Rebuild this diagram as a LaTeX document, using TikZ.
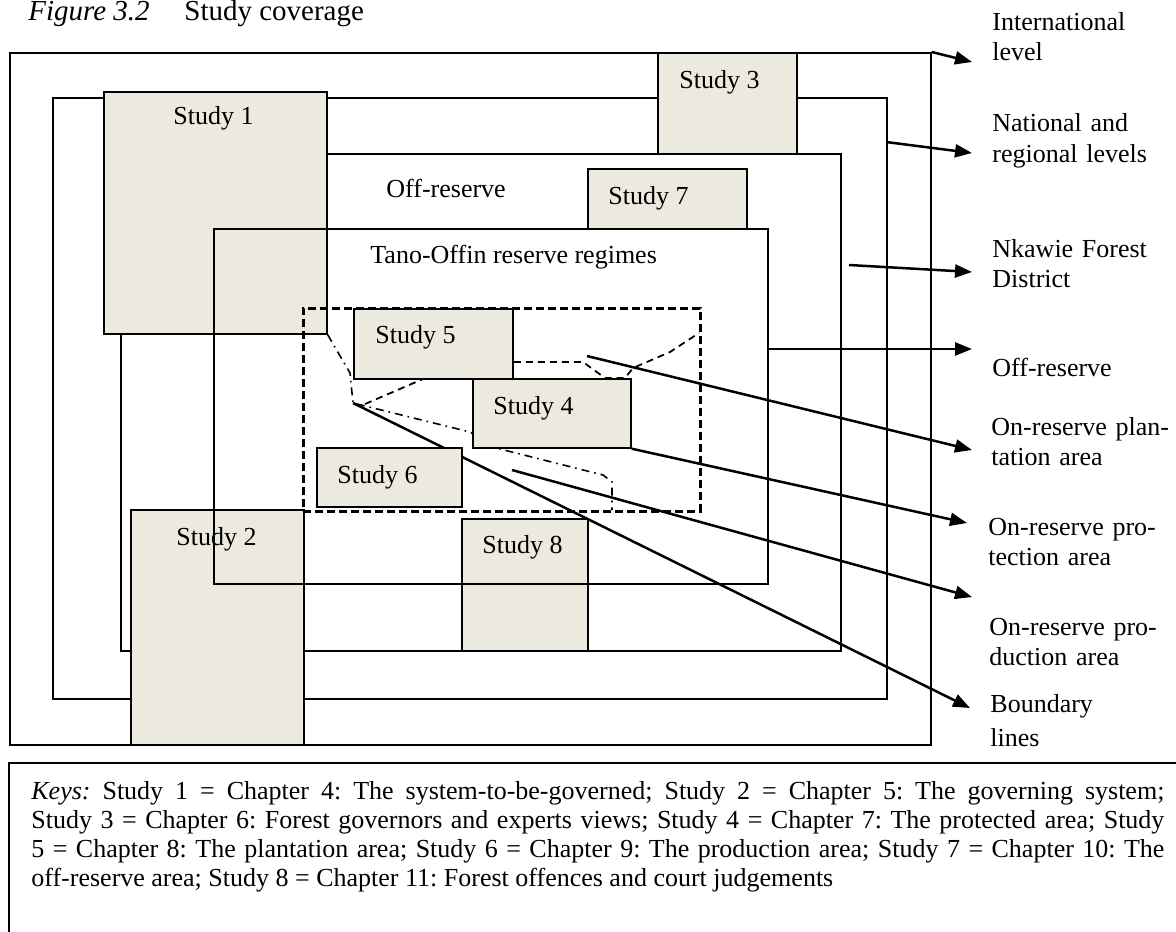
\documentclass[tikz,border=0pt]{standalone}
\usepackage{fontspec}
\setmainfont{Liberation Serif}
\usetikzlibrary{arrows.meta}
\definecolor{studybg}{RGB}{236,233,223}
\frenchspacing
\begin{document}
\begin{tikzpicture}[x=0.5pt,y=-0.5pt,
  frame/.style={draw=black, line width=0.85pt, rectangle, inner sep=0pt, anchor=north west},
  studybox/.style={draw=black, fill=studybg, line width=0.85pt, rectangle, inner sep=0pt, anchor=north west},
  txt/.style={font=\fontsize{13}{15}\selectfont, inner sep=0pt, anchor=base west},
  side/.style={txt, text width=95pt, align=left},
  pointer/.style={line width=1.25pt, -{Triangle[length=8.5pt,width=6.5pt]}},
  zone/.style={line width=1.25pt, dash pattern=on 4pt off 2pt},
  plantline/.style={line width=0.9pt, dash pattern=on 3.5pt off 2.5pt},
  protline/.style={line width=0.8pt, dash pattern=on 4pt off 2.5pt on 0.8pt off 2.5pt},
]
\useasboundingbox (0,0) rectangle (1176,931);
\clip (0,0) rectangle (1176,931);

% title
\node[txt, font=\fontsize{14.5}{16}\selectfont\itshape] (fig) at (28,21) {Figure 3.2};
\node[txt, font=\fontsize{14.5}{16}\selectfont] (cap) at (184,21) {Study coverage};

% nested levels
\node[frame, minimum width=460.5pt, minimum height=346pt] (lvlInt) at (9,52) {};
\node[frame, minimum width=417pt, minimum height=300.5pt] (lvlNat) at (52,97) {};
\node[frame, minimum width=360pt, minimum height=248.5pt] (lvlDist) at (120,153) {};

% studies behind the reserve frame
\node[studybox, minimum width=111.5pt, minimum height=121pt] (s1) at (103,91) {};
\node[studybox, minimum width=86.5pt, minimum height=117.5pt] (s2) at (130,509) {};
\node[studybox, minimum width=69.5pt, minimum height=50.5pt] (s3) at (657,52) {};
\node[studybox, minimum width=79.5pt, minimum height=30pt] (s7) at (587,168) {};
\node[studybox, minimum width=63pt, minimum height=66pt] (s8) at (461,518) {};

% Tano-Offin reserve and on-reserve area
\node[frame, minimum width=277pt, minimum height=177.5pt] (lvlRes) at (213,228) {};
\node[frame, zone, minimum width=198.5pt, minimum height=101.5pt] (onres) at (302,307) {};

% boundary lines inside the reserve
\coordinate (bnd) at (353,403);
\draw[plantline] (365,404) -- (430,376) -- (500,362) -- (583,362) -- (605,378)
  -- (625,378) -- (633,368) -- (670,352) -- (699,333);
\draw[protline] (s1.south east) -- (350,373) -- (bnd) -- (470,432) -- (500,449)
  -- (603,475) -- (612,482) -- (612,510);

% pointers to the legend on the right
\coordinate (tInt) at (972,62);
\coordinate (tNat) at (972,153);
\coordinate (tDist) at (972,272);
\coordinate (tOff) at (972,349);
\coordinate (tPlant) at (972,450);
\coordinate (tProt) at (967,523);
\coordinate (tProd) at (972,597);
\coordinate (tBnd) at (970,708);
\coordinate (sNat) at (886,142);
\coordinate (sDist) at (849,265);
\coordinate (sOff) at (767,349);
\coordinate (sPlant) at (587,356);
\coordinate (sProd) at (512,470);

\draw[pointer] (lvlInt.north east) -- (tInt);
\draw[pointer] (sNat) -- (tNat);
\draw[pointer] (sDist) -- (tDist);
\draw[pointer] (sOff) -- (tOff);
\draw[pointer] (sPlant) -- (tPlant);
\draw[pointer] (sProd) -- (tProd);
\draw[pointer] (bnd) -- (tBnd);

% studies inside the reserve
\node[studybox, minimum width=79.5pt, minimum height=35pt] (s5) at (353,308) {};
\node[studybox, minimum width=79pt, minimum height=34.5pt] (s4) at (472,378) {};
\node[studybox, minimum width=72.5pt, minimum height=29.5pt] (s6) at (316,447) {};
\draw[pointer] (s4.south east) -- (tProt);

% study labels
\node[txt] (s1t) at (173,125) {Study 1};
\node[txt] (s2t) at (176,545) {Study 2};
\node[txt] (s3t) at (679,89) {Study 3};
\node[txt] (s4t) at (493,414) {Study 4};
\node[txt] (s5t) at (375,343) {Study 5};
\node[txt] (s6t) at (337,483) {Study 6};
\node[txt] (s7t) at (608,204) {Study 7};
\node[txt] (s8t) at (482,553) {Study 8};

% area names
\node[txt] (offIn) at (386,197) {Off-reserve};
\node[txt] (resIn) at (370,263) {Tano-Offin reserve regimes};

% legend
\node[side] (lInt) at (992,31) {International\\level};
\node[side] (lNat) at (992,132) {National and\\regional levels};
\node[side] (lDist) at (992,257) {Nkawie Forest\\District};
\node[side] (lOff) at (992,376) {Off-reserve};
\node[side] (lPlant) at (991,435) {On-reserve plan-\\tation area};
\node[side] (lProt) at (988,535) {On-reserve pro-\\tection area};
\node[side] (lProd) at (989,635) {On-reserve pro-\\duction area};
\node[side] (lBnd) at (990,712) {Boundary\\[2pt]lines};

% keys
\draw[line width=0.9pt] (9,763) rectangle (1200,960);
\node[txt, text width=566.5pt, align=justify, font=\fontsize{13}{14.5}\selectfont] (keys) at (31,799)
 {\textit{Keys:} Study 1 = Chapter 4: The system-to-be-governed; Study 2 = Chapter 5: The governing system;\linebreak
  Study 3 = Chapter 6: Forest governors and experts views; Study 4 = Chapter 7: The protected area; Study\linebreak
  5 = Chapter 8: The plantation area; Study 6 = Chapter 9: The production area; Study 7 = Chapter 10: The\linebreak
  off-reserve area; Study 8 = Chapter 11: Forest offences and court judgements};
\end{tikzpicture}
\end{document}
